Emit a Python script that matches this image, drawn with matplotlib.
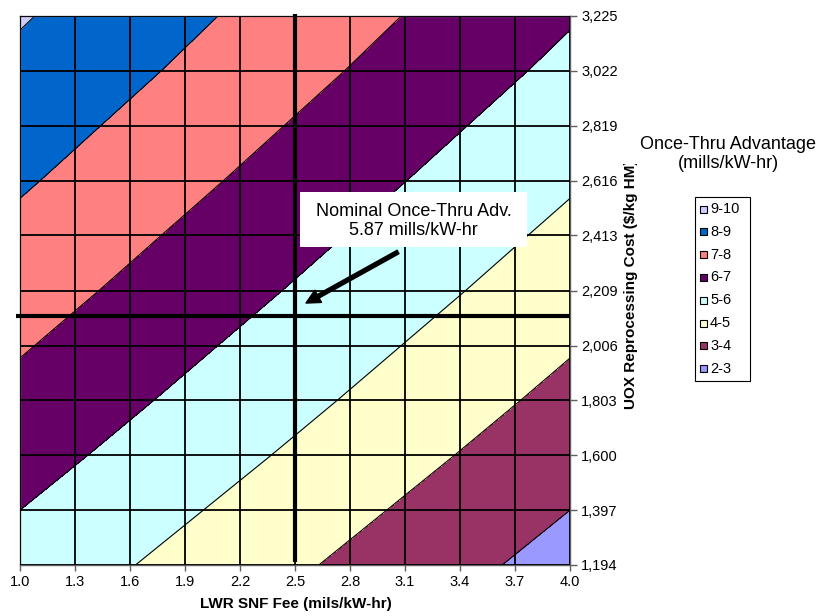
import numpy as np
import matplotlib
matplotlib.use("Agg")
import matplotlib.pyplot as plt
from matplotlib.patches import Rectangle

plt.rcParams['font.family'] = ['Liberation Sans', 'DejaVu Sans']

# LWR spent-fuel fee (mills/kW-hr) and UOX reprocessing cost ($/kg HM)
snf_fee = [1.0, 1.3, 1.6, 1.9, 2.2, 2.5, 2.8, 3.1, 3.4, 3.7, 4.0]
reproc_cost = [1194, 1397, 1600, 1803, 2006, 2209, 2413, 2616, 2819, 3022, 3225]
fee_labels = ["1.0", "1.3", "1.6", "1.9", "2.2", "2.5", "2.8", "3.1", "3.4", "3.7", "4.0"]
cost_labels = ["1,194", "1,397", "1,600", "1,803", "2,006", "2,209",
               "2,413", "2,616", "2,819", "3,022", "3,225"]

# Once-thru advantage (mills/kW-hr); rows follow reproc_cost, columns follow snf_fee
advantage = [
    [5.63, 5.33, 5.03, 4.73, 4.43, 4.13, 3.83, 3.53, 3.23, 2.93, 2.63],
    [6.00, 5.70, 5.40, 5.10, 4.80, 4.50, 4.20, 3.90, 3.60, 3.30, 3.00],
    [6.37, 6.07, 5.77, 5.47, 5.17, 4.87, 4.57, 4.27, 3.97, 3.67, 3.37],
    [6.73, 6.43, 6.13, 5.83, 5.53, 5.23, 4.93, 4.63, 4.33, 4.03, 3.73],
    [7.08, 6.78, 6.48, 6.18, 5.88, 5.58, 5.28, 4.98, 4.68, 4.38, 4.08],
    [7.43, 7.13, 6.83, 6.53, 6.23, 5.93, 5.63, 5.33, 5.03, 4.73, 4.43],
    [7.77, 7.47, 7.17, 6.87, 6.57, 6.27, 5.97, 5.67, 5.37, 5.07, 4.77],
    [8.11, 7.81, 7.51, 7.21, 6.91, 6.61, 6.31, 6.01, 5.71, 5.41, 5.11],
    [8.44, 8.14, 7.84, 7.54, 7.24, 6.94, 6.64, 6.34, 6.04, 5.74, 5.44],
    [8.77, 8.47, 8.17, 7.87, 7.57, 7.27, 6.97, 6.67, 6.37, 6.07, 5.77],
    [9.08, 8.78, 8.48, 8.18, 7.88, 7.58, 7.28, 6.98, 6.68, 6.38, 6.08],
]

band_levels = [2, 3, 4, 5, 6, 7, 8, 9, 10]
band_labels = ["2-3", "3-4", "4-5", "5-6", "6-7", "7-8", "8-9", "9-10"]
band_colors = ["#9999FF", "#993366", "#FFFFCC", "#CCFFFF",
               "#660066", "#FF8080", "#0066CC", "#CCCCFF"]

# Nominal operating point
nominal_fee = 2.5
nominal_cost = 2117
nominal_text = "Nominal Once-Thru Adv.\n5.87 mills/kW-hr"

W, H = 823, 616
fig = plt.figure(figsize=(W / 100, H / 100), dpi=100)
ax = fig.add_axes([20 / W, 1 - 565 / H, 550 / W, 549 / H])

X, Y = np.meshgrid(snf_fee, reproc_cost)
Z = np.array(advantage)

ax.contourf(X, Y, Z, levels=band_levels, colors=band_colors, zorder=1)
ax.contour(X, Y, Z, levels=band_levels[1:-1], colors="black",
           linewidths=0.8, zorder=2)

# cell grid
for xv in snf_fee:
    ax.axvline(xv, color="black", lw=1.3, zorder=3)
for yv in reproc_cost:
    ax.axhline(yv, color="black", lw=1.3, zorder=3)

ax.set_xlim(snf_fee[0], snf_fee[-1])
ax.set_ylim(reproc_cost[0], reproc_cost[-1])
ax.set_xticks(snf_fee)
ax.set_xticklabels(fee_labels)
ax.set_yticks(reproc_cost)
ax.set_yticklabels(cost_labels)
ax.yaxis.tick_right()
ax.tick_params(axis="x", direction="out", length=4, width=1, color="#606060",
               pad=3, labelsize=10.5)
ax.tick_params(axis="y", direction="out", length=5, width=1, color="#606060",
               pad=3, labelsize=10.5)
for sp in ax.spines.values():
    sp.set_color("#606060")
    sp.set_linewidth(1.0)

# crosshair through the nominal point
ax.plot([nominal_fee, nominal_fee], [1205, 3232], color="black", lw=3,
        solid_capstyle="butt", clip_on=False, zorder=5)
ax.plot([0.98, 4.0], [nominal_cost, nominal_cost], color="black", lw=3,
        solid_capstyle="butt", clip_on=False, zorder=5)

# callout
ax.add_patch(Rectangle((0.509, 0.579), 0.413, 0.101, transform=ax.transAxes,
                       facecolor="white", edgecolor="none", zorder=6))
ax.text(0.7155, 0.626, nominal_text, transform=ax.transAxes, ha="center",
        va="center", fontsize=13, linespacing=1.15, zorder=7)
ax.annotate("", xy=(2.56, 2163), xytext=(3.062, 2352),
            arrowprops=dict(facecolor="black", edgecolor="black", width=2.8,
                            headwidth=10, headlength=10, shrink=0),
            zorder=7)

# axis titles
fig.text(296 / W, 1 - 604 / H, "LWR SNF Fee (mils/kW-hr)", ha="center",
         va="center", fontsize=11, fontweight="bold")
fig.text(631 / W, 1 - 409 / H, "UOX Reprocessing Cost ($/kg HM)",
         rotation=90, ha="center", va="bottom", fontsize=11,
         fontweight="bold")
# the y title runs out of room at the top of its frame
fig.add_artist(Rectangle((621 / W, 1 - 164 / H), 17 / W, 30 / H,
                         transform=fig.transFigure, facecolor="white",
                         edgecolor="none", zorder=10))

# legend
fig.text(728 / W, 1 - 154 / H, "Once-Thru Advantage\n(mills/kW-hr)",
         ha="center", va="center", fontsize=13, linespacing=1.15)
fig.patches.append(Rectangle((695 / W, 1 - 381 / H), 55 / W, 184 / H,
                             transform=fig.transFigure, facecolor="white",
                             edgecolor="black", lw=0.8))
for k, (lab, col) in enumerate(zip(band_labels[::-1], band_colors[::-1])):
    yc = 209 + k * 22.8
    fig.patches.append(Rectangle((700 / W, 1 - (yc + 3.5) / H), 7 / W, 7 / H,
                                 transform=fig.transFigure, facecolor=col,
                                 edgecolor="black", lw=0.8))
    fig.text(710 / W, 1 - yc / H, lab, ha="left", va="center", fontsize=10.5)

fig.savefig("out.png", dpi=100)
